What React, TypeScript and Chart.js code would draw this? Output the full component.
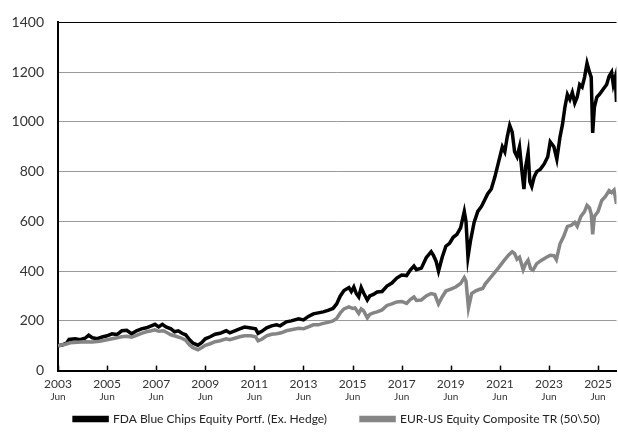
import React, { useEffect, useRef } from "react";
import { Chart, registerables } from "chart.js";

Chart.register(...registerables);

const seriesNames = [
  "FDA Blue Chips Equity Portf. (Ex. Hedge)",
  "EUR-US Equity Composite TR (50\\50)",
];

const fdaYears = [
  2003.5, 2003.7, 2003.85, 2003.95, 2004.2, 2004.4, 2004.6, 2004.75, 2004.9, 2005.1,
  2005.3, 2005.5, 2005.7, 2005.9, 2006.1, 2006.3, 2006.5, 2006.7, 2006.9, 2007.1,
  2007.3, 2007.45, 2007.6, 2007.75, 2007.9, 2008.1, 2008.25, 2008.4, 2008.55, 2008.7,
  2008.85, 2009.0, 2009.2, 2009.35, 2009.5, 2009.7, 2009.9, 2010.1, 2010.35, 2010.5,
  2010.7, 2010.9, 2011.1, 2011.3, 2011.55, 2011.65, 2011.8, 2012.0, 2012.2, 2012.4,
  2012.55, 2012.8, 2013.0, 2013.3, 2013.5, 2013.7, 2013.9, 2014.1, 2014.3, 2014.5,
  2014.7, 2014.85, 2015.0, 2015.15, 2015.35, 2015.45, 2015.55, 2015.65, 2015.75, 2015.85,
  2015.95, 2016.1, 2016.2, 2016.35, 2016.5, 2016.7, 2016.9, 2017.1, 2017.3, 2017.5,
  2017.7, 2017.85, 2018.0, 2018.1, 2018.3, 2018.5, 2018.7, 2018.8, 2018.9, 2019.0,
  2019.15, 2019.3, 2019.45, 2019.6, 2019.75, 2019.9, 2020.05, 2020.12, 2020.2, 2020.3,
  2020.45, 2020.6, 2020.75, 2020.85, 2021.0, 2021.15, 2021.3, 2021.45, 2021.6, 2021.7,
  2021.8, 2021.9, 2022.0, 2022.1, 2022.2, 2022.3, 2022.4, 2022.48, 2022.55, 2022.65,
  2022.72, 2022.8, 2022.9, 2023.0, 2023.15, 2023.3, 2023.45, 2023.55, 2023.7, 2023.82,
  2023.95, 2024.05, 2024.15, 2024.25, 2024.35, 2024.45, 2024.55, 2024.65, 2024.75, 2024.85,
  2024.95, 2025.05, 2025.15, 2025.22, 2025.28, 2025.35, 2025.45, 2025.55, 2025.7, 2025.85,
  2025.95, 2026.05, 2026.12, 2026.2, 2026.25,
];
const fdaValues = [
  100, 104, 110, 125, 128, 124, 130, 142, 132, 128,
  135, 140, 148, 145, 160, 162, 148, 160, 168, 172,
  180, 186, 176, 186, 176, 168, 156, 160, 150, 144,
  125, 110, 102, 112, 128, 136, 146, 150, 160, 152,
  160, 168, 175, 172, 168, 150, 158, 172, 180, 184,
  180, 196, 200, 208, 204, 218, 228, 232, 236, 242,
  250, 268, 300, 322, 334, 318, 336, 310, 296, 334,
  312, 284, 300, 306, 316, 318, 340, 352, 372, 384,
  382, 404, 420, 406, 412, 454, 478, 462, 440, 400,
  456, 500, 512, 536, 548, 574, 640, 600, 456, 520,
  596, 640, 660, 680, 710, 730, 780, 840, 900, 880,
  940, 986, 960, 880, 860, 900, 800, 730, 820, 876,
  760, 740, 780, 800, 810, 830, 860, 920, 900, 850,
  940, 990, 1060, 1110, 1090, 1118, 1076, 1100, 1150, 1140,
  1180, 1236, 1200, 1180, 956, 1060, 1100, 1110, 1130, 1150,
  1184, 1200, 1150, 1180, 1080,
];

const eurYears = [
  2003.5, 2003.8, 2004.0, 2004.3, 2004.6, 2004.9, 2005.2, 2005.5, 2005.8, 2006.1,
  2006.3, 2006.5, 2006.7, 2006.9, 2007.1, 2007.3, 2007.45, 2007.6, 2007.8, 2007.95,
  2008.1, 2008.3, 2008.5, 2008.7, 2008.85, 2009.0, 2009.2, 2009.35, 2009.5, 2009.7,
  2009.9, 2010.1, 2010.35, 2010.5, 2010.7, 2010.9, 2011.1, 2011.35, 2011.55, 2011.65,
  2011.8, 2012.0, 2012.2, 2012.4, 2012.6, 2012.8, 2013.0, 2013.3, 2013.5, 2013.7,
  2013.9, 2014.1, 2014.3, 2014.5, 2014.7, 2014.85, 2015.0, 2015.15, 2015.35, 2015.5,
  2015.6, 2015.75, 2015.85, 2015.95, 2016.1, 2016.2, 2016.35, 2016.5, 2016.7, 2016.9,
  2017.1, 2017.3, 2017.5, 2017.7, 2017.85, 2018.0, 2018.1, 2018.3, 2018.5, 2018.7,
  2018.85, 2019.0, 2019.15, 2019.3, 2019.5, 2019.7, 2019.9, 2020.05, 2020.12, 2020.22,
  2020.35, 2020.5, 2020.65, 2020.8, 2020.9, 2021.05, 2021.2, 2021.45, 2021.65, 2021.85,
  2022.0, 2022.1, 2022.2, 2022.3, 2022.45, 2022.55, 2022.65, 2022.75, 2022.85, 2023.0,
  2023.2, 2023.4, 2023.55, 2023.7, 2023.8, 2023.95, 2024.1, 2024.25, 2024.4, 2024.55,
  2024.65, 2024.8, 2024.95, 2025.05, 2025.15, 2025.22, 2025.28, 2025.35, 2025.5, 2025.65,
  2025.8, 2025.95, 2026.05, 2026.15, 2026.25,
];
const eurValues = [
  100, 106, 112, 114, 116, 115, 118, 124, 130, 136,
  138, 134, 142, 150, 156, 160, 164, 158, 160, 152,
  144, 138, 132, 122, 104, 92, 84, 92, 102, 108,
  116, 120, 128, 124, 130, 136, 140, 140, 136, 120,
  126, 140, 146, 148, 152, 160, 164, 170, 168, 176,
  184, 184, 190, 194, 200, 210, 232, 248, 256, 250,
  252, 230, 248, 240, 212, 226, 232, 236, 244, 262,
  268, 276, 278, 270, 286, 296, 282, 284, 300, 310,
  306, 268, 296, 320, 328, 336, 350, 374, 360, 252,
  310, 320, 326, 330, 348, 366, 384, 414, 440, 464,
  478, 470, 448, 456, 406, 430, 444, 410, 404, 430,
  444, 456, 464, 462, 446, 510, 540, 580, 584, 596,
  580, 620, 640, 664, 654, 630, 548, 620, 640, 684,
  700, 724, 716, 726, 670,
];

const xTickYears = [2003.5, 2005.5, 2007.5, 2009.5, 2011.5, 2013.5, 2015.5, 2017.5, 2019.5, 2021.5, 2023.5, 2025.5];
const xTickYearLabels = ["2003", "2005", "2007", "2009", "2011", "2013", "2015", "2017", "2019", "2021", "2023", "2025"];
const xTickMonthLabel = "Jun";
const yTicks = [0, 200, 400, 600, 800, 1000, 1200, 1400];

const FONT = "Lato, 'Open Sans', sans-serif";

export default function App() {
  const ref = useRef<HTMLCanvasElement>(null);

  useEffect(() => {
    document.body.style.margin = "0";
    const idx = (v: number) => xTickYears.findIndex((t) => Math.abs(t - v) < 1e-6);
    const xMin = fdaYears[0];
    const xMax = fdaYears[fdaYears.length - 1];

    const insideTicks = {
      id: "insideTicks",
      afterDraw(chart: any) {
        const xs = chart.scales.x;
        const { ctx, chartArea } = chart;
        ctx.save();
        ctx.strokeStyle = "#000";
        ctx.lineWidth = 1.5;
        xTickYears.forEach((v) => {
          const px = Math.round(xs.getPixelForValue(v)) + 0.5;
          ctx.beginPath();
          ctx.moveTo(px, chartArea.bottom);
          ctx.lineTo(px, chartArea.bottom - 5);
          ctx.stroke();
        });
        ctx.restore();
      },
    };

    const legendShift = {
      id: "legendShift",
      afterLayout(chart: any) {
        const lg = chart.legend;
        if (lg) {
          lg.left += 28;
          lg.right += 28;
        }
      },
    };

    const baseGen = (Chart as any).defaults.plugins.legend.labels.generateLabels;

    const chart = new Chart(ref.current!, {
      type: "line",
      data: {
        datasets: [
          {
            label: seriesNames[0],
            data: fdaYears.map((x, i) => ({ x, y: fdaValues[i] })),
            borderColor: "#000000",
            backgroundColor: "#000000",
            borderWidth: 3.5,
            pointRadius: 0,
            xAxisID: "x",
            yAxisID: "y",
            order: 1,
          },
          {
            label: seriesNames[1],
            data: eurYears.map((x, i) => ({ x, y: eurValues[i] })),
            borderColor: "#858585",
            backgroundColor: "#858585",
            borderWidth: 3.5,
            pointRadius: 0,
            xAxisID: "x",
            yAxisID: "y",
            order: 0,
          },
        ],
      },
      options: {
        animation: false,
        responsive: false,
        maintainAspectRatio: false,
        layout: { padding: { top: 12, right: 0, left: 0, bottom: 4 } },
        scales: {
          x: {
            type: "linear",
            min: xMin,
            max: xMax,
            afterBuildTicks: (s: any) => {
              s.ticks = xTickYears.map((v) => ({ value: v }));
            },
            afterFit: (s: any) => {
              s.height -= 6;
            },
            ticks: {
              callback: (v: any) => xTickYearLabels[idx(Number(v))],
              font: { family: FONT, size: 12 },
              color: "#333",
              padding: 6,
              maxRotation: 0,
              autoSkip: false,
            },
            grid: { display: false, drawTicks: false },
            border: { display: true, color: "#000", width: 2 },
          },
          x2: {
            type: "linear",
            position: "bottom",
            min: xMin,
            max: xMax,
            afterBuildTicks: (s: any) => {
              s.ticks = xTickYears.map((v) => ({ value: v }));
            },
            ticks: {
              callback: () => xTickMonthLabel,
              font: { family: FONT, size: 10 },
              color: "#333",
              padding: 0,
              maxRotation: 0,
              autoSkip: false,
            },
            grid: { display: false, drawTicks: false },
            border: { display: false },
          },
          y: {
            min: 0,
            max: 1400,
            afterBuildTicks: (s: any) => {
              s.ticks = yTicks.map((v) => ({ value: v }));
            },
            afterFit: (s: any) => {
              s.width = 58;
            },
            ticks: {
              callback: (v: any) => String(v),
              font: { family: FONT, size: 14 },
              color: "#333",
              padding: 14,
            },
            grid: {
              color: (c: any) => (c.tick && c.tick.value === 1400 ? "#000" : "#9a9a9a"),
              lineWidth: 1,
              drawTicks: false,
            },
            border: { display: true, color: "#000", width: 2 },
          },
        },
        plugins: {
          legend: {
            position: "bottom",
            labels: {
              boxWidth: 33,
              boxHeight: 3,
              font: { family: FONT, size: 12 },
              color: "#222",
              padding: 10,
              sort: (a: any, b: any) => a.datasetIndex - b.datasetIndex,
              generateLabels: (ch: any) => {
                const items = baseGen(ch);
                return items.map((it: any) =>
                  it.datasetIndex === 0 ? { ...it, text: it.text + "\u2003\u2003\u2002" } : it
                );
              },
            },
          },
          tooltip: { enabled: false },
        },
      },
      plugins: [insideTicks, legendShift],
    } as any);
    return () => chart.destroy();
  }, []);

  return <canvas ref={ref} width={618} height={439} style={{ display: "block" }} />;
}
